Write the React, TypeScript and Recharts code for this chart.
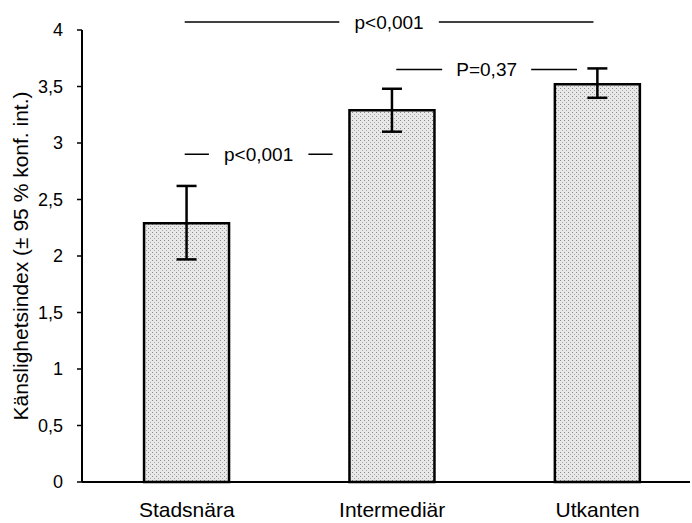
import {
  Bar,
  BarChart,
  ErrorBar,
  ReferenceLine,
  XAxis,
  YAxis
} from "recharts";

const categories = ["Stadsnära", "Intermediär", "Utkanten"];
const means = [2.29, 3.29, 3.52];
const ciLow = [1.97, 3.1, 3.4];
const ciHigh = [2.62, 3.48, 3.66];
const yTicks = [0, 0.5, 1, 1.5, 2, 2.5, 3, 3.5, 4];

// p-value brackets: [from, to] on the category position axis, height in index units
const pLabels = ["p<0,001", "P=0,37", "p<0,001"];
const pFrom = [-0.01, 1.02, -0.01];
const pTo = [1.98, 1.9, 0.71];
const pLevel = [4.07, 3.65, 2.9];

const data = categories.map((name, i) => ({
  pos: i,
  name,
  mean: means[i],
  ci: [means[i] - ciLow[i], ciHigh[i] - means[i]]
}));

const font = "'Liberation Sans', Arial, sans-serif";

function PLabel(props: any) {
  const { viewBox, value } = props;
  const cx = viewBox.x + viewBox.width / 2;
  const cy = viewBox.y + viewBox.height / 2;
  const w = value.length * 10.5 + 26;
  return (
    <g>
      <rect x={cx - w / 2} y={cy - 11} width={w} height={22} fill="#fff" />
      <text
        x={cx}
        y={cy}
        dy="0.35em"
        textAnchor="middle"
        fontFamily={font}
        fontSize={19}
        fill="#000"
      >
        {value}
      </text>
    </g>
  );
}

export default function App() {
  return (
    <div style={{ position: "absolute", left: 0, top: 0, background: "#fff" }}>
      <BarChart
        width={692}
        height={523}
        data={data}
        margin={{ top: 30, right: 2, bottom: 0, left: 0 }}
      >
        <defs>
          <pattern id="stipple" width="4" height="4" patternUnits="userSpaceOnUse">
            <rect width="4" height="4" fill="#e8e8e8" />
            <rect x="0" y="0" width="1" height="1" fill="#8a8a8a" />
            <rect x="2" y="2" width="1" height="1" fill="#a8a8a8" />
          </pattern>
        </defs>
        <XAxis
          type="number"
          dataKey="pos"
          domain={[-0.51, 2.45]}
          ticks={[0, 1, 2]}
          tickFormatter={(v: number) => categories[v]}
          tickLine={false}
          tickSize={0}
          tickMargin={20}
          height={41}
          axisLine={{ stroke: "#000", strokeWidth: 2 }}
          tick={{ fill: "#000", fontSize: 21, fontFamily: font }}
          allowDataOverflow
        />
        <YAxis
          domain={[0, 4]}
          ticks={yTicks}
          width={82}
          tickSize={5}
          tickMargin={14}
          tickFormatter={(v: number) => String(v).replace(".", ",")}
          axisLine={{ stroke: "#000", strokeWidth: 2 }}
          tickLine={{ stroke: "#000", strokeWidth: 1.5 }}
          tick={{ fill: "#000", fontSize: 18, fontFamily: font }}
          label={{
            value: "Känslighetsindex (± 95 % konf. int.)",
            angle: -90,
            position: "insideLeft",
            dx: 16,
            dy: 0,
            style: { textAnchor: "middle", fill: "#000", fontSize: 21, fontFamily: font }
          }}
        />
        <Bar
          dataKey="mean"
          barSize={85}
          fill="url(#stipple)"
          stroke="#000"
          strokeWidth={2.5}
          isAnimationActive={false}
        >
          <ErrorBar dataKey="ci" width={10} stroke="#000" strokeWidth={2.5} />
        </Bar>
        {pLabels.map((label, i) => (
          <ReferenceLine
            key={i}
            segment={[
              { x: pFrom[i], y: pLevel[i] },
              { x: pTo[i], y: pLevel[i] }
            ]}
            stroke="#000"
            strokeWidth={1.5}
            ifOverflow="visible"
            label={<PLabel value={label} />}
          />
        ))}
      </BarChart>
    </div>
  );
}
